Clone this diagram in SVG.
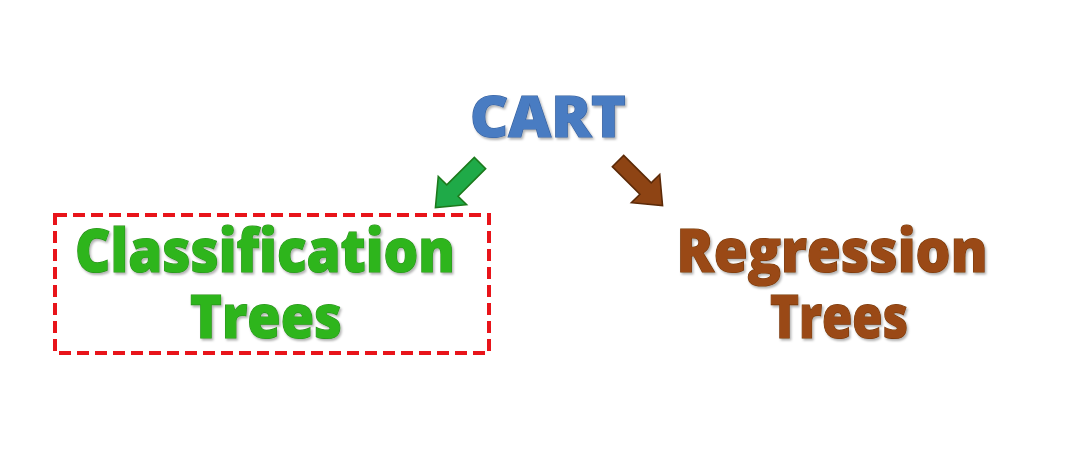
<svg xmlns="http://www.w3.org/2000/svg" width="1065" height="457" viewBox="0 0 1065 457">
  <defs>
    <filter id="sh" x="-10%" y="-20%" width="120%" height="150%">
      <feDropShadow dx="1.5" dy="2" stdDeviation="1.2" flood-color="#000" flood-opacity="0.3"/>
    </filter>
  </defs>
  <style>
    .t { font-family: "Open Sans", "Liberation Sans", sans-serif; font-weight: 800; text-anchor: middle; stroke-width: 1.2; paint-order: stroke; }
    .cart { fill: #4a7cc2; stroke: #36609e; font-size: 56px; }
    .cls { fill: #2fb51f; stroke: #2a8f1c; font-size: 60px; }
    .reg { fill: #9a4912; stroke: #74360c; font-size: 60px; }
    .arrow { stroke-width: 1.6; stroke-linejoin: miter; }
  </style>
  <rect width="1065" height="457" fill="#ffffff"/>
  <g id="cart" filter="url(#sh)">
    <text class="t cart" x="548" y="137" textLength="156" lengthAdjust="spacingAndGlyphs">CART</text>
  </g>
  <g id="classification">
    <rect x="55" y="215" width="434" height="138" fill="none" stroke="#e8141a" stroke-width="4" stroke-dasharray="12 6"/>
    <g filter="url(#sh)">
      <text class="t cls" x="265" y="272" textLength="380" lengthAdjust="spacingAndGlyphs">Classification</text>
      <text class="t cls" x="266" y="338" textLength="152" lengthAdjust="spacingAndGlyphs">Trees</text>
    </g>
  </g>
  <g id="regression" filter="url(#sh)">
    <text class="t reg" x="832" y="272" textLength="311" lengthAdjust="spacingAndGlyphs">Regression</text>
    <text class="t reg" x="839" y="338" textLength="138" lengthAdjust="spacingAndGlyphs">Trees</text>
  </g>
  <g id="connectors">
    <polygon class="arrow" transform="translate(480,163) rotate(135)" points="0,-8 39,-8 39,-20 63,0 39,20 39,8 0,8" fill="#1faa48" stroke="#1c7a1c"/>
    <polygon class="arrow" transform="translate(618,161) rotate(45)" points="0,-8 39,-8 39,-20 63,0 39,20 39,8 0,8" fill="#8e4414" stroke="#5c2a08"/>
  </g>
</svg>
